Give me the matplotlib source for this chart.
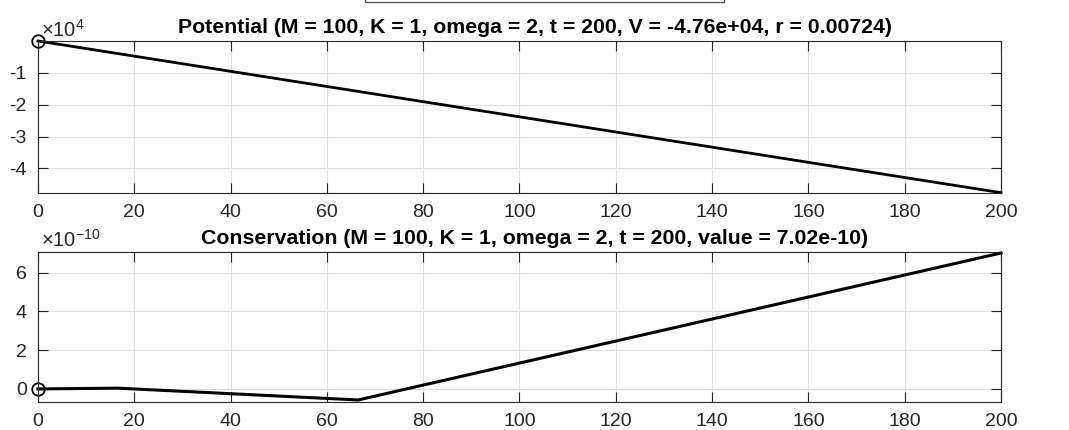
import matplotlib
matplotlib.use("Agg")
import matplotlib.pyplot as plt
from matplotlib.patches import Rectangle

plt.rcParams['font.family'] = ['Liberation Sans', 'DejaVu Sans']
plt.rcParams['mathtext.fontset'] = 'custom'
plt.rcParams['mathtext.rm'] = 'Liberation Sans'
plt.rcParams['mathtext.it'] = 'Liberation Sans'

# Data
pot_t = [0, 200]
pot_v = [0.0, -4.76e4]
cons_t = [0, 16.6, 66.5, 200]
cons_v = [0.0, 0.04e-10, -0.57e-10, 7.02e-10]

xticks = list(range(0, 201, 20))
pot_yticks = [-4e4, -3e4, -2e4, -1e4]
pot_ylabels = ['-4', '-3', '-2', '-1']
cons_yticks = [0, 2e-10, 4e-10, 6e-10]
cons_ylabels = ['0', '2', '4', '6']

title1 = 'Potential (M = 100, K = 1, omega = 2, t = 200, V = -4.76e+04, r = 0.00724)'
title2 = 'Conservation (M = 100, K = 1, omega = 2, t = 200, value = 7.02e-10)'

fig = plt.figure(figsize=(10.69, 4.30), dpi=100)
ax1 = fig.add_axes([0.0355, 0.5519, 0.9009, 0.3528])
ax2 = fig.add_axes([0.0355, 0.0658, 0.9009, 0.3490])

axcol = '#262626'
title_x = (534.5 - 38) / 963.0
for ax in (ax1, ax2):
    ax.set_xlim(0, 200)
    ax.set_xticks(xticks)
    ax.grid(True, color='#dedede', linewidth=0.8)
    ax.set_axisbelow(True)
    ax.tick_params(direction='in', length=7, width=0.8, top=True, right=True,
                   labelsize=14, colors=axcol)
    ax.tick_params(axis='x', pad=8)
    ax.tick_params(axis='y', pad=8)
    for s in ax.spines.values():
        s.set_color(axcol)
        s.set_linewidth(0.8)

ax1.plot(pot_t, pot_v, color='black', linewidth=2.0, clip_on=False)
ax1.plot(pot_t[0], pot_v[0], 'o', markersize=9, markerfacecolor='none',
         markeredgecolor='black', markeredgewidth=1.3, clip_on=False)
ax1.set_ylim(pot_v[-1], 0)
ax1.set_yticks(pot_yticks)
ax1.set_yticklabels(pot_ylabels)
ax1.set_title(title1, fontsize=15.3, fontweight='bold', pad=5.5, x=title_x)
ax1.text(0.003, 1.03, r'$\times$10$^{4}$', transform=ax1.transAxes, fontsize=14.5,
         color=axcol, ha='left', va='baseline')

ax2.plot(cons_t, cons_v, color='black', linewidth=2.2, clip_on=False)
ax2.plot(cons_t[0], cons_v[0], 'o', markersize=9, markerfacecolor='none',
         markeredgecolor='black', markeredgewidth=1.3, clip_on=False)
ax2.set_ylim(-0.66e-10, 7.09e-10)
ax2.set_yticks(cons_yticks)
ax2.set_yticklabels(cons_ylabels)
ax2.set_title(title2, fontsize=15.3, fontweight='bold', pad=5.5, x=title_x)
ax2.text(0.003, 1.03, r'$\times$10$^{-10}$', transform=ax2.transAxes, fontsize=14.5,
         color=axcol, ha='left', va='baseline')

# clipped box at top
fig.patches.append(Rectangle((365/1069, 1 - 2/430), (724-365)/1069, 0.05,
                             transform=fig.transFigure, fill=False,
                             edgecolor='#555555', linewidth=1.0))

fig.savefig('out.png', dpi=100)
